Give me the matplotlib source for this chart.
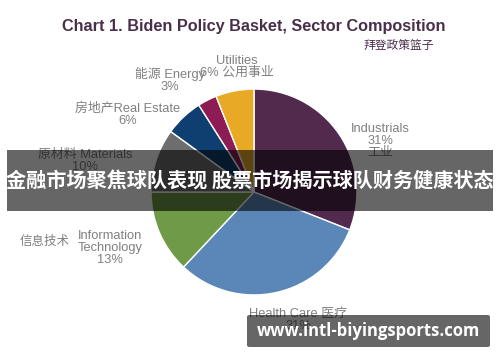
import matplotlib
matplotlib.use('Agg')
import matplotlib.pyplot as plt
from matplotlib.patches import FancyBboxPatch, Rectangle

# data
sectors = ['Industrials', 'Health Care', 'Information Technology',
           'Materials', 'Real Estate', 'Energy', 'Utilities']
shares = [31, 31, 13, 10, 6, 3, 6]
colors = ['#512a4e', '#5b87b8', '#6f9a47', '#6e6e6e',
          '#0f3e70', '#8c1c53', '#e8aa25']

title = 'Chart 1. Biden Policy Basket, Sector Composition'
subtitle = '拜登政策篮子'
banner = '金融市场聚焦球队表现 股票市场揭示球队财务健康状态'
watermark = 'www.intl-biyingsports.com'

# label text per sector (pixel position of the text centre, x, y from top)
labels = [
    ('Industrials\n31%\n工业', 380, 141),
    ('Health Care 医疗\n31%', 298, 320),
    ('Information\nTechnology\n13%', 110, 248),
    ('原材料 Materials\n10%', 85, 161),
    ('房地产Real Estate\n6%', 128, 115),
    ('能源 Energy\n3%', 170, 80),
    ('Utilities\n6% 公用事业', 237, 67),
]

W, H = 500, 362
fonts = ['Liberation Sans', 'Noto Sans CJK SC', 'DejaVu Sans']
plt.rcParams['font.family'] = fonts

fig = plt.figure(figsize=(W / 100, H / 100), dpi=100)
fig.patch.set_facecolor('white')


def fx(x):
    return x / W


def fy(y):
    return 1 - y / H


cx, cy, r = 254, 192, 105
ax = fig.add_axes([fx(cx - r), fy(cy + r), 2 * r / W, 2 * r / H])
ax.pie(shares, colors=colors, startangle=90, counterclock=False,
       wedgeprops=dict(edgecolor='white', linewidth=1.0))
ax.set_xlim(-1.02, 1.02)
ax.set_ylim(-1.02, 1.02)
ax.set_aspect('equal')
ax.axis('off')

fig.text(fx(254), fy(27), title, ha='center', va='center',
         fontsize=11.7, fontweight='bold', color='#4a2f4a',
         family=fonts)
fig.text(fx(399), fy(45), subtitle, ha='center', va='center',
         fontsize=8.5, color='#4a2f4a', family=['Noto Sans CJK SC'])

for text, x, y in labels:
    fig.text(fx(x), fy(y), text, ha='center', va='center',
             fontsize=9.3, color='#808080', linespacing=1.0,
             family=fonts)
fig.text(fx(45), fy(241), '信息技术', ha='center', va='center',
         fontsize=9, color='#808080', family=['Noto Sans CJK SC'])

# dark banner over the chart
fig.patches.append(Rectangle((fx(7), fy(211)), fx(486), 61 / H,
                             transform=fig.transFigure,
                             facecolor='black', alpha=0.6, zorder=5))
fig.text(fx(250), fy(181), banner, ha='center', va='center',
         fontsize=14.5, fontweight='bold', color='white',
         family=['Noto Sans CJK SC'], zorder=6)

# watermark
fig.patches.append(FancyBboxPatch((fx(247), fy(347)), fx(243), 32 / H,
                                  boxstyle='round,pad=0,rounding_size=0.005',
                                  transform=fig.transFigure,
                                  facecolor='black', alpha=0.6,
                                  edgecolor='none', zorder=5))
fig.text(fx(368), fy(331), watermark, ha='center', va='center',
         fontsize=12, fontweight='bold', color='white',
         family=['Open Sans', 'DejaVu Sans'], zorder=6)

fig.savefig('out.png', dpi=100)
